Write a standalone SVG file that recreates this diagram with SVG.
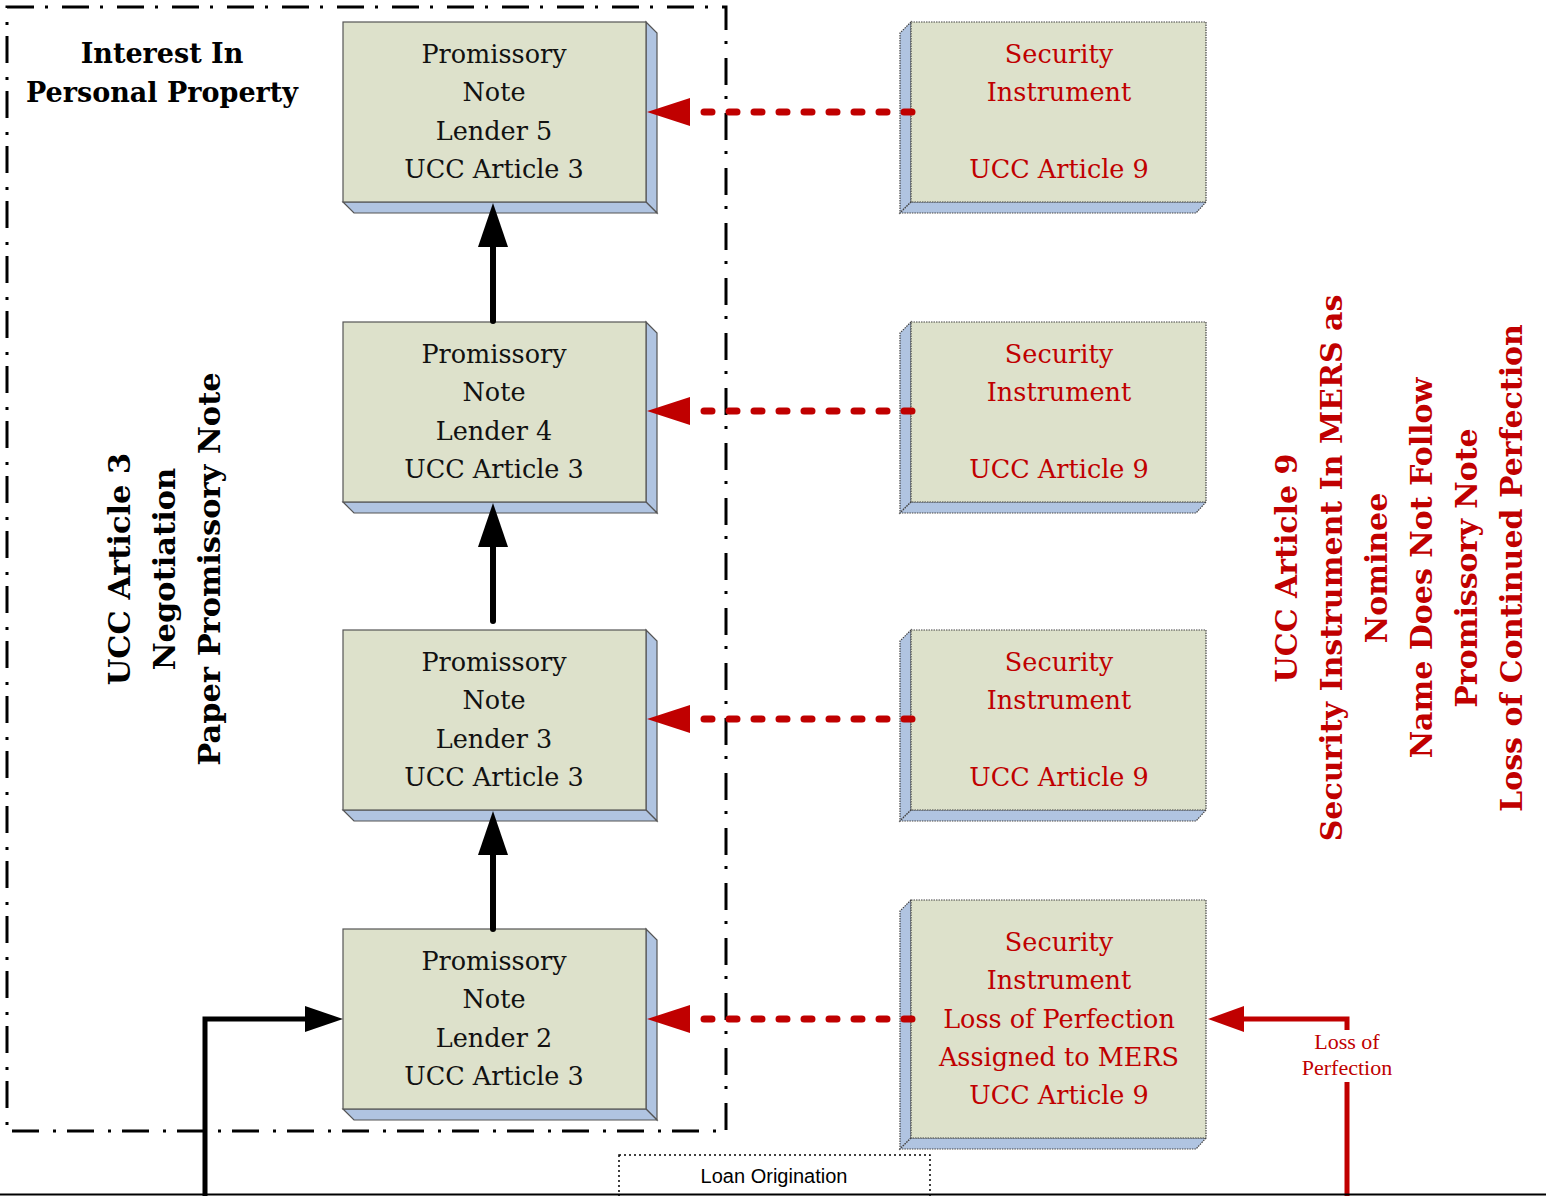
<svg xmlns="http://www.w3.org/2000/svg" width="1551" height="1196" viewBox="0 0 1551 1196">
<style>
.front{fill:#DDE1CB;stroke:#555;stroke-width:1.2}
.side{fill:#B0C4E1;stroke:#555;stroke-width:1.2}
.rfront{fill:#DDE1CB;stroke:#444;stroke-width:1.2;stroke-dasharray:1.5 1}
.rside{fill:#B0C4E1;stroke:#444;stroke-width:1.2;stroke-dasharray:1.5 1}
.t{font-family:"DejaVu Serif","Liberation Serif",serif;font-size:25.5px;fill:#111;text-anchor:middle}
.tr{font-family:"DejaVu Serif","Liberation Serif",serif;font-size:25.5px;fill:#C00000;text-anchor:middle}
.b{font-family:"DejaVu Serif","Liberation Serif",serif;font-weight:bold;font-size:30.5px;fill:#000;text-anchor:middle}
.br{font-family:"DejaVu Serif","Liberation Serif",serif;font-weight:bold;font-size:30px;fill:#C00000;text-anchor:middle}
.red{stroke:#C00000;stroke-width:7;stroke-linecap:round;stroke-dasharray:8 17;fill:none}
.blk{stroke:#000;stroke-width:6;fill:none;stroke-linecap:round}
.lp{font-family:"Liberation Serif",serif;font-size:22px;fill:#C00000;text-anchor:middle}
</style>

<!-- boundary -->
<rect x="7" y="7" width="719" height="1124" fill="none" stroke="#000" stroke-width="3" stroke-dasharray="27 11 3 14"/>

<g id="title">
<text class="b" x="162" y="63" style="font-size:27px">Interest In</text>
<text class="b" x="162" y="102" style="font-size:27px">Personal Property</text>
</g>

<g id="left-label">
<text class="b" transform="translate(130,569) rotate(-90)">UCC Article 3</text>
<text class="b" transform="translate(175,569) rotate(-90)">Negotiation</text>
<text class="b" transform="translate(220,569) rotate(-90)">Paper Promissory Note</text>
</g>

<g id="right-label">
<text class="br" transform="translate(1297,568) rotate(-90)">UCC Article 9</text>
<text class="br" transform="translate(1342,568) rotate(-90)">Security Instrument In MERS as</text>
<text class="br" transform="translate(1387,568) rotate(-90)">Nominee</text>
<text class="br" transform="translate(1432,568) rotate(-90)">Name Does Not Follow</text>
<text class="br" transform="translate(1477,568) rotate(-90)">Promissory Note</text>
<text class="br" transform="translate(1522,568) rotate(-90)">Loss of Continued Perfection</text>
</g>

<!-- left boxes -->
<g id="pn5">
<polygon class="side" points="646,22 657,33 657,213 646,202"/>
<polygon class="side" points="343,202 646,202 657,213 354,213"/>
<rect class="front" x="343" y="22" width="303" height="180"/>
<text class="t" x="494" y="63">Promissory</text>
<text class="t" x="494" y="101">Note</text>
<text class="t" x="494" y="140">Lender 5</text>
<text class="t" x="494" y="178">UCC Article 3</text>
</g>
<g id="pn4">
<polygon class="side" points="646,322 657,333 657,513 646,502"/>
<polygon class="side" points="343,502 646,502 657,513 354,513"/>
<rect class="front" x="343" y="322" width="303" height="180"/>
<text class="t" x="494" y="363">Promissory</text>
<text class="t" x="494" y="401">Note</text>
<text class="t" x="494" y="440">Lender 4</text>
<text class="t" x="494" y="478">UCC Article 3</text>
</g>
<g id="pn3">
<polygon class="side" points="646,630 657,641 657,821 646,810"/>
<polygon class="side" points="343,810 646,810 657,821 354,821"/>
<rect class="front" x="343" y="630" width="303" height="180"/>
<text class="t" x="494" y="671">Promissory</text>
<text class="t" x="494" y="709">Note</text>
<text class="t" x="494" y="748">Lender 3</text>
<text class="t" x="494" y="786">UCC Article 3</text>
</g>
<g id="pn2">
<polygon class="side" points="646,929 657,940 657,1120 646,1109"/>
<polygon class="side" points="343,1109 646,1109 657,1120 354,1120"/>
<rect class="front" x="343" y="929" width="303" height="180"/>
<text class="t" x="494" y="970">Promissory</text>
<text class="t" x="494" y="1008">Note</text>
<text class="t" x="494" y="1047">Lender 2</text>
<text class="t" x="494" y="1085">UCC Article 3</text>
</g>

<!-- right boxes -->
<g id="si1">
<polygon class="rside" points="911,22 900,33 900,213 911,202"/>
<polygon class="rside" points="911,202 1206,202 1196,213 900,213"/>
<rect class="rfront" x="911" y="22" width="295" height="180"/>
<text class="tr" x="1059" y="63">Security</text>
<text class="tr" x="1059" y="101">Instrument</text>
<text class="tr" x="1059" y="178">UCC Article 9</text>
</g>
<g id="si2">
<polygon class="rside" points="911,322 900,333 900,513 911,502"/>
<polygon class="rside" points="911,502 1206,502 1196,513 900,513"/>
<rect class="rfront" x="911" y="322" width="295" height="180"/>
<text class="tr" x="1059" y="363">Security</text>
<text class="tr" x="1059" y="401">Instrument</text>
<text class="tr" x="1059" y="478">UCC Article 9</text>
</g>
<g id="si3">
<polygon class="rside" points="911,630 900,641 900,821 911,810"/>
<polygon class="rside" points="911,810 1206,810 1196,821 900,821"/>
<rect class="rfront" x="911" y="630" width="295" height="180"/>
<text class="tr" x="1059" y="671">Security</text>
<text class="tr" x="1059" y="709">Instrument</text>
<text class="tr" x="1059" y="786">UCC Article 9</text>
</g>
<g id="si4">
<polygon class="rside" points="911,900 900,911 900,1149 911,1138"/>
<polygon class="rside" points="911,1138 1206,1138 1196,1149 900,1149"/>
<rect class="rfront" x="911" y="900" width="295" height="238"/>
<text class="tr" x="1059" y="951">Security</text>
<text class="tr" x="1059" y="989">Instrument</text>
<text class="tr" x="1059" y="1028">Loss of Perfection</text>
<text class="tr" x="1059" y="1066">Assigned to MERS</text>
<text class="tr" x="1059" y="1104">UCC Article 9</text>
</g>

<g id="loan-origination">
<rect x="619" y="1155" width="311" height="50" fill="none" stroke="#000" stroke-width="1.5" stroke-dasharray="2 3"/>
<text x="774" y="1183" style="font-family:'Liberation Sans',Arial,sans-serif;font-size:20px;text-anchor:middle;fill:#000">Loan Origination</text>
</g>

<g id="connectors">
<!-- red dotted arrows -->
<line class="red" x1="912" y1="112" x2="695" y2="112"/>
<polygon points="647,112 690,98 690,126" fill="#C00000"/>
<line class="red" x1="912" y1="411" x2="695" y2="411"/>
<polygon points="647,411 690,397 690,425" fill="#C00000"/>
<line class="red" x1="912" y1="719" x2="695" y2="719"/>
<polygon points="647,719 690,705 690,733" fill="#C00000"/>
<line class="red" x1="912" y1="1019" x2="695" y2="1019"/>
<polygon points="647,1019 690,1005 690,1033" fill="#C00000"/>

<!-- black up arrows -->
<line class="blk" x1="493" y1="321" x2="493" y2="240"/>
<polygon points="493,203 478,247 508,247" fill="#000"/>
<line class="blk" x1="493" y1="621" x2="493" y2="540"/>
<polygon points="493,503 478,547 508,547" fill="#000"/>
<line class="blk" x1="493" y1="929" x2="493" y2="848"/>
<polygon points="493,811 478,855 508,855" fill="#000"/>

<!-- elbow from bottom -->
<polyline points="205,1196 205,1019 310,1019" fill="none" stroke="#000" stroke-width="5"/>
<polygon points="343,1019 305,1006 305,1032" fill="#000"/>

<!-- red loss of perfection -->
<polyline points="1347,1196 1347,1082" fill="none" stroke="#C00000" stroke-width="5"/>
<polyline points="1347,1030 1347,1019 1240,1019" fill="none" stroke="#C00000" stroke-width="5"/>
<polygon points="1208,1019 1244,1006 1244,1032" fill="#C00000"/>
<text class="lp" x="1347" y="1049">Loss of</text>
<text class="lp" x="1347" y="1075">Perfection</text>

<!-- bottom line -->
<line x1="0" y1="1194.5" x2="1546" y2="1194.5" stroke="#000" stroke-width="2"/>
</g>
</svg>
